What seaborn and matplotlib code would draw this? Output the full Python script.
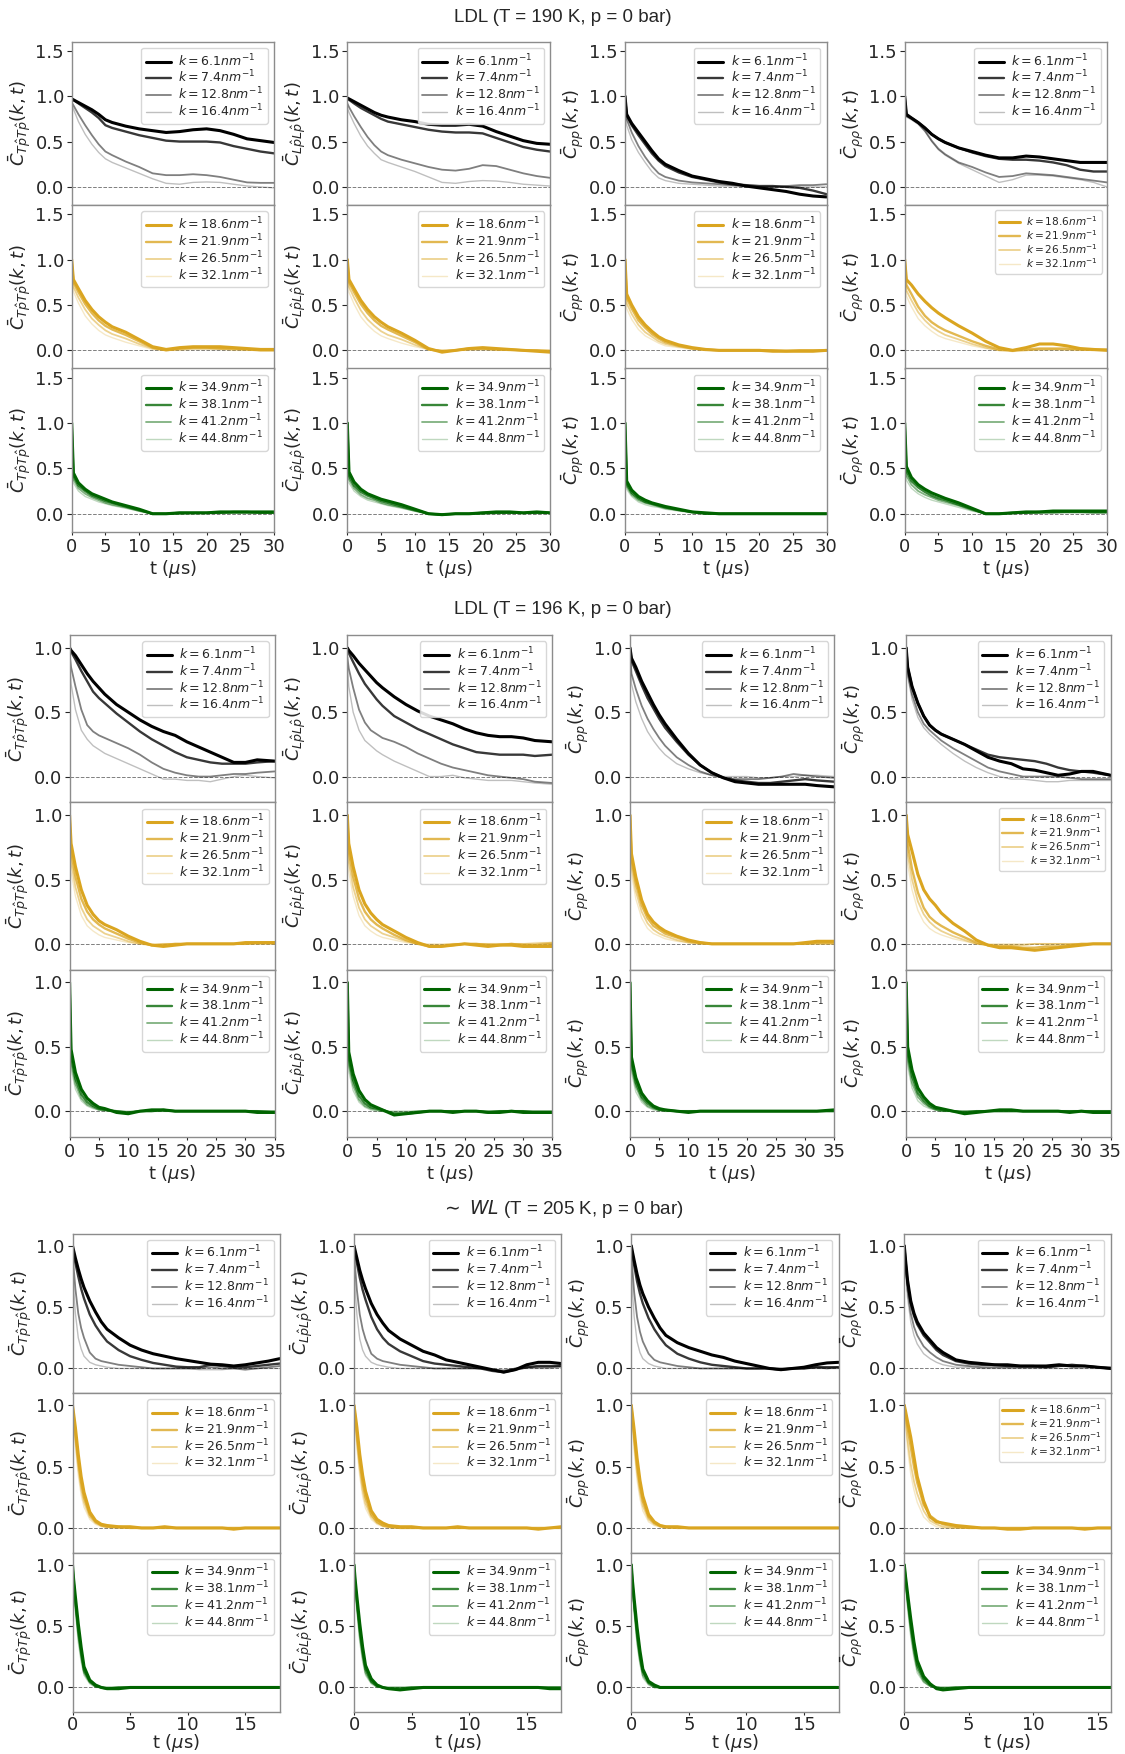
import numpy as np
import pandas as pd
import seaborn as sns
import matplotlib
matplotlib.use("Agg")
import matplotlib.pyplot as plt

# ---------------- data ----------------
T_190 = [0, 0.25, 1, 2, 3, 4, 5, 6, 8, 10, 12, 14, 16, 18, 20, 22, 24, 26, 28, 30]
T_196 = [0, 0.25, 1, 2, 3, 4, 5, 6, 8, 10, 12, 14, 16, 18, 20, 22, 24, 26, 28, 30, 32, 35]
T_205 = [0, 0.1, 0.25, 0.5, 0.75, 1, 1.5, 2, 2.5, 3, 4, 5, 6, 7, 8, 9, 10, 11, 12, 13, 14, 15, 16, 17, 18]

K_LOW = ["6.1", "7.4", "12.8", "16.4"]
K_MID = ["18.6", "21.9", "26.5", "32.1"]
K_HIGH = ["34.9", "38.1", "41.2", "44.8"]

TITLES = ["LDL (T = 190 K, p = 0 bar)", "LDL (T = 196 K, p = 0 bar)",
          r"$\sim$ $WL$ (T = 205 K, p = 0 bar)"]
YLABELS = [r"$\bar{C}_{T\hat{p}T\hat{p}}(k, t)$", r"$\bar{C}_{L\hat{p}L\hat{p}}(k, t)$",
           r"$\bar{C}_{pp}(k, t)$", r"$\bar{C}_{\rho\rho}(k, t)$"]

# ---- T = 190 K ----
C190_TT_low = [
    [0.97, 0.96, 0.93, 0.89, 0.85, 0.80, 0.74, 0.71, 0.67, 0.64, 0.62, 0.60, 0.61, 0.63, 0.64, 0.62, 0.58, 0.53, 0.51, 0.49],
    [0.97, 0.96, 0.92, 0.87, 0.82, 0.76, 0.68, 0.65, 0.61, 0.57, 0.54, 0.51, 0.50, 0.50, 0.50, 0.49, 0.45, 0.42, 0.39, 0.37],
    [0.93, 0.90, 0.80, 0.68, 0.57, 0.47, 0.39, 0.35, 0.28, 0.22, 0.15, 0.13, 0.13, 0.14, 0.13, 0.11, 0.08, 0.05, 0.045, 0.045],
    [0.90, 0.86, 0.72, 0.58, 0.47, 0.38, 0.31, 0.27, 0.21, 0.15, 0.09, 0.04, 0.03, 0.05, 0.055, 0.05, 0.03, 0.01, 0.0, -0.01]]
C190_LL_low = [
    [0.98, 0.97, 0.94, 0.90, 0.86, 0.82, 0.79, 0.77, 0.74, 0.72, 0.69, 0.68, 0.68, 0.69, 0.67, 0.61, 0.56, 0.51, 0.48, 0.47],
    [0.97, 0.96, 0.92, 0.87, 0.83, 0.79, 0.75, 0.72, 0.69, 0.66, 0.63, 0.61, 0.60, 0.60, 0.59, 0.54, 0.49, 0.44, 0.41, 0.39],
    [0.92, 0.88, 0.78, 0.66, 0.55, 0.46, 0.39, 0.35, 0.30, 0.26, 0.22, 0.19, 0.18, 0.20, 0.24, 0.23, 0.19, 0.15, 0.12, 0.10],
    [0.87, 0.82, 0.70, 0.56, 0.45, 0.37, 0.30, 0.27, 0.22, 0.17, 0.11, 0.05, 0.04, 0.06, 0.07, 0.065, 0.05, 0.03, 0.02, 0.01]]
C190_pp_low = [
    [1.0, 0.80, 0.70, 0.60, 0.50, 0.40, 0.31, 0.25, 0.18, 0.12, 0.09, 0.06, 0.04, 0.01, -0.01, -0.03, -0.05, -0.08, -0.10, -0.11],
    [1.0, 0.79, 0.68, 0.57, 0.47, 0.37, 0.29, 0.23, 0.16, 0.11, 0.08, 0.05, 0.03, 0.02, 0.01, 0.01, 0.0, -0.01, -0.04, -0.08],
    [1.0, 0.75, 0.60, 0.45, 0.33, 0.23, 0.15, 0.11, 0.07, 0.05, 0.04, 0.03, 0.02, 0.01, 0.0, 0.0, 0.01, 0.02, 0.02, 0.03],
    [1.0, 0.68, 0.52, 0.38, 0.27, 0.17, 0.10, 0.07, 0.04, 0.03, 0.02, 0.01, 0.01, 0.0, 0.0, 0.0, 0.0, 0.0, 0.0, 0.0]]
C190_rr_low = [
    [1.0, 0.80, 0.76, 0.71, 0.65, 0.58, 0.53, 0.49, 0.43, 0.39, 0.35, 0.32, 0.32, 0.34, 0.33, 0.31, 0.29, 0.27, 0.27, 0.27],
    [1.0, 0.79, 0.76, 0.71, 0.65, 0.58, 0.53, 0.49, 0.43, 0.38, 0.34, 0.31, 0.30, 0.30, 0.29, 0.27, 0.24, 0.19, 0.17, 0.17],
    [1.0, 0.78, 0.75, 0.70, 0.62, 0.51, 0.42, 0.36, 0.27, 0.22, 0.16, 0.11, 0.12, 0.15, 0.14, 0.13, 0.11, 0.09, 0.07, 0.05],
    [1.0, 0.77, 0.74, 0.69, 0.61, 0.50, 0.41, 0.35, 0.26, 0.19, 0.12, 0.05, 0.08, 0.13, 0.13, 0.12, 0.10, 0.08, 0.05, 0.0]]
C190_TT_mid = [
    [1.0, 0.78, 0.68, 0.55, 0.45, 0.37, 0.31, 0.26, 0.20, 0.12, 0.04, 0.01, 0.03, 0.04, 0.04, 0.04, 0.03, 0.02, 0.01, 0.01],
    [1.0, 0.75, 0.64, 0.51, 0.41, 0.33, 0.27, 0.23, 0.17, 0.10, 0.03, 0.0, 0.02, 0.03, 0.03, 0.02, 0.02, 0.01, 0.0, 0.0],
    [1.0, 0.70, 0.58, 0.45, 0.35, 0.28, 0.22, 0.18, 0.13, 0.07, 0.02, 0.0, 0.01, 0.02, 0.02, 0.02, 0.01, 0.01, 0.0, 0.0],
    [1.0, 0.65, 0.52, 0.38, 0.29, 0.22, 0.17, 0.14, 0.09, 0.05, 0.01, 0.0, 0.0, 0.01, 0.01, 0.01, 0.0, 0.0, 0.0, 0.0]]
C190_LL_mid = [
    [1.0, 0.78, 0.68, 0.55, 0.45, 0.37, 0.31, 0.26, 0.19, 0.11, 0.02, -0.02, 0.0, 0.02, 0.03, 0.02, 0.01, 0.0, -0.01, -0.02],
    [1.0, 0.75, 0.64, 0.51, 0.41, 0.33, 0.27, 0.23, 0.16, 0.09, 0.01, -0.01, 0.0, 0.02, 0.02, 0.01, 0.01, 0.0, 0.0, -0.01],
    [1.0, 0.70, 0.58, 0.44, 0.34, 0.27, 0.21, 0.17, 0.12, 0.06, 0.01, 0.0, 0.0, 0.01, 0.01, 0.01, 0.0, 0.0, 0.0, 0.0],
    [1.0, 0.64, 0.51, 0.37, 0.28, 0.21, 0.16, 0.13, 0.08, 0.04, 0.01, 0.0, 0.0, 0.0, 0.01, 0.0, 0.0, 0.0, 0.0, 0.0]]
C190_pp_mid = [
    [1.0, 0.62, 0.50, 0.37, 0.28, 0.21, 0.15, 0.11, 0.06, 0.03, 0.01, 0.0, 0.0, 0.0, 0.0, -0.01, -0.01, -0.01, -0.01, 0.0],
    [1.0, 0.58, 0.46, 0.33, 0.25, 0.18, 0.13, 0.09, 0.05, 0.02, 0.01, 0.0, 0.0, 0.0, 0.0, 0.0, -0.01, 0.0, 0.0, 0.0],
    [1.0, 0.52, 0.40, 0.28, 0.20, 0.15, 0.10, 0.07, 0.04, 0.02, 0.0, 0.0, 0.0, 0.0, 0.0, 0.0, 0.0, 0.0, 0.0, 0.0],
    [1.0, 0.46, 0.34, 0.23, 0.16, 0.12, 0.08, 0.05, 0.03, 0.01, 0.0, 0.0, 0.0, 0.0, 0.0, 0.0, 0.0, 0.0, 0.0, 0.0]]
C190_rr_mid = [
    [1.0, 0.78, 0.72, 0.62, 0.54, 0.47, 0.41, 0.36, 0.27, 0.19, 0.10, 0.03, 0.0, 0.03, 0.07, 0.07, 0.05, 0.02, 0.01, 0.0],
    [1.0, 0.72, 0.62, 0.48, 0.38, 0.31, 0.26, 0.22, 0.16, 0.10, 0.05, 0.01, 0.0, 0.01, 0.02, 0.02, 0.02, 0.01, 0.01, 0.01],
    [1.0, 0.66, 0.55, 0.42, 0.33, 0.26, 0.21, 0.17, 0.12, 0.07, 0.03, 0.0, -0.01, 0.0, 0.01, 0.01, 0.01, 0.01, 0.0, 0.0],
    [1.0, 0.60, 0.48, 0.35, 0.27, 0.21, 0.16, 0.13, 0.09, 0.05, 0.02, 0.0, 0.0, 0.0, 0.0, 0.01, 0.0, 0.0, 0.0, 0.0]]
C190_TT_high = [
    [1.0, 0.45, 0.34, 0.27, 0.22, 0.19, 0.16, 0.13, 0.09, 0.05, 0.0, 0.0, 0.01, 0.01, 0.01, 0.02, 0.02, 0.02, 0.02, 0.02],
    [1.0, 0.42, 0.31, 0.25, 0.20, 0.17, 0.14, 0.12, 0.08, 0.04, 0.0, 0.0, 0.01, 0.01, 0.01, 0.01, 0.02, 0.02, 0.01, 0.01],
    [1.0, 0.38, 0.28, 0.22, 0.18, 0.15, 0.12, 0.10, 0.07, 0.03, 0.0, 0.0, 0.0, 0.01, 0.01, 0.01, 0.01, 0.01, 0.01, 0.01],
    [1.0, 0.34, 0.25, 0.19, 0.16, 0.13, 0.11, 0.09, 0.06, 0.03, 0.0, 0.0, 0.0, 0.0, 0.01, 0.01, 0.01, 0.01, 0.01, 0.01]]
C190_LL_high = [
    [1.0, 0.46, 0.35, 0.27, 0.22, 0.19, 0.16, 0.14, 0.10, 0.05, 0.0, -0.01, 0.0, 0.0, 0.01, 0.02, 0.02, 0.01, 0.02, 0.01],
    [1.0, 0.42, 0.31, 0.24, 0.20, 0.17, 0.14, 0.12, 0.08, 0.04, 0.0, -0.01, 0.0, 0.0, 0.01, 0.01, 0.01, 0.01, 0.01, 0.01],
    [1.0, 0.38, 0.28, 0.21, 0.17, 0.15, 0.12, 0.10, 0.07, 0.03, 0.0, -0.01, 0.0, 0.0, 0.0, 0.01, 0.01, 0.01, 0.01, 0.01],
    [1.0, 0.34, 0.25, 0.19, 0.15, 0.13, 0.11, 0.09, 0.06, 0.03, 0.0, -0.01, 0.0, 0.0, 0.0, 0.0, 0.01, 0.01, 0.0, 0.01]]
C190_pp_high = [
    [1.0, 0.36, 0.26, 0.19, 0.15, 0.12, 0.10, 0.08, 0.05, 0.02, 0.01, 0.0, 0.0, 0.0, 0.0, 0.0, 0.0, 0.0, 0.0, 0.0],
    [1.0, 0.33, 0.23, 0.17, 0.13, 0.11, 0.09, 0.07, 0.04, 0.02, 0.0, 0.0, 0.0, 0.0, 0.0, 0.0, 0.0, 0.0, 0.0, 0.0],
    [1.0, 0.30, 0.21, 0.15, 0.12, 0.10, 0.08, 0.06, 0.04, 0.02, 0.0, 0.0, 0.0, 0.0, 0.0, 0.0, 0.0, 0.0, 0.0, 0.0],
    [1.0, 0.27, 0.19, 0.13, 0.10, 0.08, 0.07, 0.05, 0.03, 0.01, 0.0, 0.0, 0.0, 0.0, 0.0, 0.0, 0.0, 0.0, 0.0, 0.0]]
C190_rr_high = [
    [1.0, 0.52, 0.40, 0.32, 0.27, 0.23, 0.20, 0.17, 0.12, 0.06, 0.0, 0.0, 0.01, 0.02, 0.02, 0.03, 0.03, 0.03, 0.03, 0.03],
    [1.0, 0.47, 0.36, 0.29, 0.24, 0.20, 0.17, 0.15, 0.10, 0.05, 0.0, 0.0, 0.01, 0.01, 0.02, 0.02, 0.02, 0.02, 0.02, 0.02],
    [1.0, 0.42, 0.32, 0.25, 0.21, 0.18, 0.15, 0.13, 0.09, 0.04, 0.0, 0.0, 0.01, 0.01, 0.01, 0.01, 0.02, 0.02, 0.01, 0.01],
    [1.0, 0.37, 0.28, 0.22, 0.18, 0.15, 0.13, 0.11, 0.07, 0.03, 0.0, 0.0, 0.0, 0.01, 0.01, 0.01, 0.01, 0.01, 0.01, 0.01]]

# ---- T = 196 K ----
C196_TT_low = [
    [1.0, 0.98, 0.94, 0.87, 0.80, 0.74, 0.69, 0.64, 0.56, 0.50, 0.44, 0.39, 0.35, 0.32, 0.27, 0.23, 0.19, 0.15, 0.11, 0.11, 0.13, 0.12],
    [1.0, 0.97, 0.91, 0.82, 0.74, 0.66, 0.61, 0.57, 0.49, 0.42, 0.35, 0.29, 0.24, 0.19, 0.15, 0.13, 0.11, 0.10, 0.10, 0.10, 0.11, 0.12],
    [0.95, 0.85, 0.70, 0.52, 0.40, 0.35, 0.32, 0.30, 0.26, 0.22, 0.17, 0.11, 0.06, 0.03, 0.01, 0.0, 0.0, 0.01, 0.02, 0.02, 0.03, 0.04],
    [0.90, 0.72, 0.52, 0.36, 0.29, 0.24, 0.21, 0.18, 0.14, 0.10, 0.06, 0.02, -0.02, -0.02, -0.03, -0.03, -0.04, -0.02, 0.0, 0.01, 0.0, -0.01]]
C196_LL_low = [
    [1.0, 0.98, 0.94, 0.88, 0.83, 0.78, 0.73, 0.69, 0.62, 0.56, 0.51, 0.47, 0.44, 0.41, 0.37, 0.34, 0.32, 0.31, 0.31, 0.30, 0.28, 0.27],
    [1.0, 0.96, 0.89, 0.80, 0.72, 0.66, 0.60, 0.55, 0.47, 0.42, 0.37, 0.33, 0.29, 0.25, 0.22, 0.19, 0.18, 0.17, 0.17, 0.17, 0.16, 0.17],
    [0.93, 0.84, 0.69, 0.52, 0.42, 0.36, 0.33, 0.30, 0.27, 0.23, 0.18, 0.14, 0.10, 0.07, 0.05, 0.03, 0.01, 0.0, -0.01, -0.02, -0.04, -0.05],
    [0.88, 0.70, 0.50, 0.36, 0.28, 0.24, 0.20, 0.17, 0.12, 0.08, 0.04, 0.0, 0.0, 0.01, -0.01, -0.02, -0.03, -0.03, -0.03, -0.04, -0.05, -0.06]]
C196_pp_low = [
    [1.0, 0.92, 0.85, 0.74, 0.65, 0.56, 0.48, 0.41, 0.29, 0.18, 0.09, 0.03, -0.01, -0.04, -0.05, -0.06, -0.06, -0.06, -0.06, -0.06, -0.07, -0.08],
    [1.0, 0.90, 0.82, 0.71, 0.61, 0.53, 0.45, 0.38, 0.27, 0.17, 0.09, 0.03, -0.01, -0.03, -0.04, -0.05, -0.05, -0.04, -0.03, -0.02, -0.03, -0.04],
    [1.0, 0.80, 0.68, 0.55, 0.45, 0.37, 0.30, 0.24, 0.15, 0.09, 0.04, 0.01, -0.01, -0.02, -0.02, -0.02, -0.01, 0.0, 0.02, 0.01, 0.0, -0.01],
    [1.0, 0.72, 0.58, 0.45, 0.35, 0.28, 0.22, 0.17, 0.10, 0.06, 0.03, 0.01, 0.0, 0.0, 0.0, -0.01, -0.01, 0.0, 0.0, 0.01, 0.01, 0.0]]
C196_rr_low = [
    [1.0, 0.85, 0.70, 0.57, 0.47, 0.40, 0.36, 0.33, 0.29, 0.25, 0.20, 0.15, 0.12, 0.10, 0.06, 0.05, 0.03, 0.01, 0.02, 0.04, 0.04, 0.01],
    [1.0, 0.85, 0.70, 0.57, 0.47, 0.40, 0.36, 0.33, 0.29, 0.25, 0.21, 0.17, 0.15, 0.14, 0.13, 0.12, 0.10, 0.07, 0.05, 0.04, 0.03, 0.01],
    [1.0, 0.80, 0.64, 0.50, 0.41, 0.36, 0.32, 0.28, 0.22, 0.17, 0.12, 0.07, 0.04, 0.02, 0.0, 0.0, 0.0, 0.0, -0.01, -0.02, -0.02, -0.02],
    [1.0, 0.78, 0.60, 0.46, 0.38, 0.33, 0.29, 0.25, 0.18, 0.12, 0.07, 0.03, 0.0, -0.02, -0.02, -0.03, -0.04, -0.04, -0.03, -0.03, -0.03, -0.03]]
C196_TT_mid = [
    [1.0, 0.78, 0.60, 0.42, 0.30, 0.23, 0.18, 0.15, 0.11, 0.06, 0.02, -0.01, -0.02, -0.01, 0.0, 0.0, 0.0, 0.0, 0.0, 0.01, 0.01, 0.01],
    [1.0, 0.72, 0.52, 0.35, 0.25, 0.19, 0.15, 0.12, 0.08, 0.04, 0.01, -0.01, -0.01, 0.0, 0.0, 0.0, 0.0, 0.0, 0.0, 0.0, 0.01, 0.01],
    [1.0, 0.64, 0.44, 0.28, 0.19, 0.14, 0.11, 0.08, 0.05, 0.02, 0.0, -0.01, 0.0, 0.0, 0.0, 0.0, 0.0, 0.0, 0.0, 0.0, 0.0, 0.0],
    [1.0, 0.56, 0.37, 0.22, 0.14, 0.10, 0.07, 0.05, 0.03, 0.01, 0.0, 0.0, 0.0, 0.0, 0.0, 0.0, 0.0, 0.0, 0.0, 0.0, 0.0, 0.0]]
C196_LL_mid = [
    [1.0, 0.78, 0.60, 0.42, 0.31, 0.24, 0.19, 0.15, 0.10, 0.05, 0.01, -0.02, -0.02, -0.01, 0.0, -0.01, -0.02, -0.01, -0.01, -0.02, -0.02, -0.02],
    [1.0, 0.72, 0.52, 0.35, 0.25, 0.19, 0.15, 0.12, 0.07, 0.03, 0.0, -0.02, -0.02, -0.01, 0.0, 0.0, -0.01, -0.01, 0.0, -0.01, -0.01, 0.0],
    [1.0, 0.64, 0.44, 0.28, 0.19, 0.14, 0.11, 0.08, 0.05, 0.02, 0.0, -0.01, -0.01, 0.0, 0.0, 0.0, 0.0, 0.0, 0.0, 0.0, 0.0, 0.01],
    [1.0, 0.56, 0.37, 0.22, 0.14, 0.10, 0.07, 0.05, 0.03, 0.01, 0.0, 0.0, 0.0, 0.0, 0.0, 0.0, 0.0, 0.0, 0.0, 0.0, 0.01, 0.01]]
C196_pp_mid = [
    [1.0, 0.70, 0.52, 0.34, 0.23, 0.17, 0.13, 0.10, 0.06, 0.03, 0.01, 0.0, 0.0, 0.0, 0.0, 0.0, 0.0, 0.0, 0.0, 0.01, 0.02, 0.02],
    [1.0, 0.66, 0.47, 0.30, 0.20, 0.14, 0.11, 0.08, 0.05, 0.02, 0.01, 0.0, 0.0, 0.0, 0.0, 0.0, 0.0, 0.0, 0.0, 0.0, 0.01, 0.01],
    [1.0, 0.60, 0.41, 0.25, 0.16, 0.11, 0.08, 0.06, 0.03, 0.01, 0.0, 0.0, 0.0, 0.0, 0.0, 0.0, 0.0, 0.0, 0.0, 0.0, 0.0, 0.0],
    [1.0, 0.54, 0.35, 0.20, 0.12, 0.08, 0.06, 0.04, 0.02, 0.01, 0.0, 0.0, 0.0, 0.0, 0.0, 0.0, 0.0, 0.0, 0.0, 0.0, 0.0, 0.0]]
C196_rr_mid = [
    [1.0, 0.85, 0.72, 0.54, 0.42, 0.35, 0.30, 0.24, 0.16, 0.10, 0.03, -0.01, -0.03, -0.03, -0.04, -0.05, -0.04, -0.03, -0.02, -0.01, 0.0, 0.0],
    [1.0, 0.78, 0.58, 0.40, 0.28, 0.21, 0.17, 0.14, 0.09, 0.05, 0.01, -0.01, -0.02, -0.02, -0.03, -0.03, -0.02, -0.02, -0.01, 0.0, 0.0, 0.0],
    [1.0, 0.70, 0.50, 0.33, 0.23, 0.17, 0.13, 0.10, 0.06, 0.03, 0.0, -0.01, -0.01, -0.01, -0.01, 0.0, 0.0, 0.0, 0.0, 0.0, 0.0, 0.0],
    [1.0, 0.62, 0.42, 0.26, 0.17, 0.12, 0.09, 0.07, 0.04, 0.02, 0.0, 0.0, 0.0, 0.0, 0.0, 0.0, 0.0, 0.0, 0.0, 0.0, 0.0, 0.0]]
C196_TT_high = [
    [1.0, 0.48, 0.30, 0.17, 0.10, 0.06, 0.03, 0.02, -0.01, -0.02, 0.0, 0.01, 0.01, 0.0, 0.0, 0.0, 0.0, 0.0, 0.0, 0.0, -0.01, -0.01],
    [1.0, 0.43, 0.25, 0.13, 0.07, 0.04, 0.02, 0.01, 0.0, -0.01, 0.0, 0.0, 0.01, 0.0, 0.0, 0.0, 0.0, 0.0, 0.0, 0.0, 0.0, -0.01],
    [1.0, 0.38, 0.21, 0.10, 0.05, 0.03, 0.01, 0.01, 0.0, -0.01, 0.0, 0.0, 0.0, 0.0, 0.0, 0.0, 0.0, 0.0, 0.0, 0.0, 0.0, 0.0],
    [1.0, 0.33, 0.17, 0.08, 0.04, 0.02, 0.01, 0.0, 0.0, 0.0, 0.0, 0.0, 0.0, 0.0, 0.0, 0.0, 0.0, 0.0, 0.0, 0.0, 0.0, 0.0]]
C196_LL_high = [
    [1.0, 0.46, 0.29, 0.16, 0.09, 0.05, 0.03, 0.01, -0.03, -0.02, -0.01, 0.0, 0.0, -0.01, 0.0, 0.0, -0.01, -0.01, 0.0, -0.01, -0.01, -0.01],
    [1.0, 0.41, 0.24, 0.12, 0.06, 0.03, 0.02, 0.01, -0.02, -0.02, -0.01, 0.0, 0.0, 0.0, 0.0, 0.0, -0.01, 0.0, 0.0, 0.0, -0.01, -0.01],
    [1.0, 0.36, 0.20, 0.09, 0.04, 0.02, 0.01, 0.0, -0.01, -0.01, 0.0, 0.0, 0.0, 0.0, 0.0, 0.0, 0.0, 0.0, 0.0, 0.0, 0.0, 0.0],
    [1.0, 0.31, 0.16, 0.07, 0.03, 0.01, 0.0, 0.0, 0.0, 0.0, 0.0, 0.0, 0.0, 0.0, 0.0, 0.0, 0.0, 0.0, 0.0, 0.0, 0.0, 0.0]]
C196_pp_high = [
    [1.0, 0.42, 0.26, 0.14, 0.08, 0.04, 0.02, 0.01, 0.0, -0.01, 0.0, 0.0, 0.0, 0.0, 0.0, 0.0, 0.0, 0.0, 0.0, 0.0, 0.0, 0.01],
    [1.0, 0.38, 0.22, 0.11, 0.06, 0.03, 0.01, 0.01, 0.0, 0.0, 0.0, 0.0, 0.0, 0.0, 0.0, 0.0, 0.0, 0.0, 0.0, 0.0, 0.0, 0.0],
    [1.0, 0.34, 0.19, 0.09, 0.04, 0.02, 0.01, 0.0, 0.0, 0.0, 0.0, 0.0, 0.0, 0.0, 0.0, 0.0, 0.0, 0.0, 0.0, 0.0, 0.0, 0.0],
    [1.0, 0.30, 0.15, 0.07, 0.03, 0.01, 0.0, 0.0, 0.0, 0.0, 0.0, 0.0, 0.0, 0.0, 0.0, 0.0, 0.0, 0.0, 0.0, 0.0, 0.0, 0.0]]
C196_rr_high = [
    [1.0, 0.50, 0.32, 0.18, 0.11, 0.06, 0.03, 0.02, 0.0, -0.02, -0.01, 0.0, 0.01, 0.01, 0.0, 0.0, 0.0, 0.0, -0.01, 0.0, -0.01, -0.01],
    [1.0, 0.45, 0.27, 0.14, 0.08, 0.04, 0.02, 0.01, 0.0, -0.01, 0.0, 0.0, 0.0, 0.0, 0.0, 0.0, 0.0, 0.0, 0.0, 0.0, 0.0, 0.0],
    [1.0, 0.40, 0.22, 0.11, 0.06, 0.03, 0.01, 0.0, 0.0, 0.0, 0.0, 0.0, 0.0, 0.0, 0.0, 0.0, 0.0, 0.0, 0.0, 0.0, 0.0, 0.0],
    [1.0, 0.35, 0.18, 0.08, 0.04, 0.02, 0.01, 0.0, 0.0, 0.0, 0.0, 0.0, 0.0, 0.0, 0.0, 0.0, 0.0, 0.0, 0.0, 0.0, 0.0, 0.0]]

# ---- T = 205 K ----
C205_TT_low = [
    [1.0, 0.96, 0.90, 0.81, 0.73, 0.66, 0.55, 0.46, 0.38, 0.32, 0.25, 0.19, 0.15, 0.12, 0.10, 0.08, 0.065, 0.05, 0.035, 0.03, 0.02, 0.03, 0.045, 0.06, 0.08],
    [1.0, 0.94, 0.86, 0.75, 0.65, 0.57, 0.44, 0.35, 0.28, 0.22, 0.15, 0.10, 0.07, 0.045, 0.03, 0.015, 0.01, 0.01, 0.03, 0.02, 0.01, 0.01, 0.02, 0.03, 0.04],
    [0.95, 0.82, 0.65, 0.45, 0.33, 0.25, 0.13, 0.08, 0.06, 0.05, 0.03, 0.02, 0.01, 0.0, 0.0, 0.0, 0.0, 0.0, 0.01, 0.0, 0.0, -0.01, 0.0, 0.01, 0.02],
    [0.85, 0.65, 0.45, 0.25, 0.16, 0.10, 0.05, 0.03, 0.02, 0.01, 0.0, 0.0, 0.0, 0.0, 0.0, 0.0, 0.0, -0.01, -0.01, -0.01, 0.0, 0.0, 0.0, 0.0, 0.0]]
C205_LL_low = [
    [1.0, 0.96, 0.90, 0.80, 0.72, 0.65, 0.53, 0.44, 0.37, 0.31, 0.24, 0.19, 0.14, 0.11, 0.07, 0.05, 0.03, 0.01, -0.01, -0.03, -0.01, 0.03, 0.05, 0.05, 0.04],
    [1.0, 0.94, 0.86, 0.74, 0.64, 0.56, 0.42, 0.32, 0.25, 0.20, 0.14, 0.10, 0.06, 0.04, 0.03, 0.02, 0.01, 0.0, -0.02, -0.03, -0.01, 0.01, 0.02, 0.02, 0.02],
    [0.95, 0.82, 0.64, 0.44, 0.32, 0.24, 0.12, 0.08, 0.06, 0.05, 0.03, 0.02, 0.01, 0.0, 0.0, 0.0, 0.0, 0.0, -0.01, -0.02, 0.0, 0.01, 0.01, 0.01, 0.02],
    [0.85, 0.64, 0.44, 0.24, 0.15, 0.10, 0.05, 0.03, 0.02, 0.01, 0.0, 0.0, 0.0, 0.0, 0.0, 0.0, 0.0, 0.0, -0.01, -0.01, 0.0, 0.0, 0.0, 0.0, 0.01]]
C205_pp_low = [
    [1.0, 0.95, 0.88, 0.77, 0.68, 0.61, 0.50, 0.41, 0.33, 0.27, 0.21, 0.17, 0.14, 0.11, 0.09, 0.06, 0.04, 0.02, 0.0, -0.01, 0.0, 0.01, 0.03, 0.045, 0.05],
    [1.0, 0.93, 0.84, 0.71, 0.61, 0.53, 0.41, 0.32, 0.25, 0.19, 0.12, 0.08, 0.05, 0.03, 0.02, 0.01, 0.0, 0.0, 0.0, -0.01, 0.0, 0.0, 0.01, 0.01, 0.01],
    [0.95, 0.80, 0.62, 0.42, 0.30, 0.22, 0.12, 0.07, 0.05, 0.04, 0.02, 0.01, 0.0, 0.0, 0.0, 0.0, 0.0, 0.0, 0.0, 0.0, 0.0, 0.0, 0.01, 0.0, 0.01],
    [0.85, 0.62, 0.42, 0.22, 0.13, 0.08, 0.04, 0.02, 0.01, 0.0, 0.0, 0.0, 0.0, 0.0, 0.0, 0.0, 0.0, 0.0, 0.0, 0.0, 0.0, 0.0, 0.0, 0.0, 0.0]]
C205_rr_low = [
    [1.0, 0.88, 0.72, 0.55, 0.45, 0.38, 0.29, 0.23, 0.17, 0.13, 0.07, 0.05, 0.04, 0.03, 0.03, 0.02, 0.02, 0.02, 0.03, 0.02, 0.02, 0.01, 0.0, -0.01, -0.01],
    [1.0, 0.87, 0.70, 0.53, 0.43, 0.36, 0.27, 0.21, 0.15, 0.11, 0.06, 0.04, 0.03, 0.03, 0.02, 0.02, 0.02, 0.01, 0.02, 0.03, 0.02, 0.01, 0.0, 0.0, 0.0],
    [1.0, 0.84, 0.64, 0.45, 0.34, 0.27, 0.18, 0.13, 0.09, 0.06, 0.03, 0.02, 0.01, 0.01, 0.01, 0.01, 0.01, 0.01, 0.02, 0.02, 0.02, 0.01, 0.01, 0.0, 0.0],
    [1.0, 0.80, 0.58, 0.38, 0.27, 0.20, 0.12, 0.08, 0.05, 0.03, 0.01, 0.01, 0.0, 0.0, 0.0, 0.0, 0.0, 0.0, 0.0, 0.0, 0.0, 0.0, 0.0, 0.0, 0.0]]
C205_TT_mid = [
    [1.0, 0.93, 0.82, 0.60, 0.42, 0.29, 0.13, 0.06, 0.03, 0.02, 0.01, 0.01, 0.0, 0.0, 0.01, 0.0, 0.0, 0.0, 0.0, 0.0, -0.01, 0.0, 0.0, 0.0, 0.0],
    [1.0, 0.91, 0.77, 0.55, 0.37, 0.25, 0.11, 0.05, 0.02, 0.01, 0.01, 0.0, 0.0, 0.0, 0.0, 0.0, 0.0, 0.0, 0.0, 0.0, 0.0, 0.0, 0.0, 0.0, 0.0],
    [1.0, 0.88, 0.72, 0.49, 0.32, 0.21, 0.09, 0.04, 0.02, 0.01, 0.0, 0.0, 0.0, 0.0, 0.0, 0.0, 0.0, 0.0, 0.0, 0.0, 0.0, 0.0, 0.0, 0.0, 0.0],
    [1.0, 0.85, 0.66, 0.43, 0.27, 0.17, 0.07, 0.03, 0.01, 0.0, 0.0, 0.0, 0.0, 0.0, 0.0, 0.0, 0.0, 0.0, 0.0, 0.0, 0.0, 0.0, 0.0, 0.0, 0.0]]
C205_LL_mid = [
    [1.0, 0.93, 0.82, 0.60, 0.43, 0.30, 0.14, 0.07, 0.04, 0.02, 0.01, 0.01, 0.0, 0.0, 0.0, 0.01, 0.0, 0.0, 0.0, 0.0, 0.0, 0.0, -0.01, 0.0, 0.01],
    [1.0, 0.91, 0.77, 0.54, 0.37, 0.25, 0.11, 0.05, 0.02, 0.01, 0.0, 0.0, 0.0, 0.0, 0.0, 0.0, 0.0, 0.0, 0.0, 0.0, 0.0, 0.0, 0.0, 0.0, 0.0],
    [1.0, 0.88, 0.71, 0.48, 0.31, 0.20, 0.09, 0.04, 0.02, 0.01, 0.0, 0.0, 0.0, 0.0, 0.0, 0.0, 0.0, 0.0, 0.0, 0.0, 0.0, 0.0, 0.0, 0.0, 0.0],
    [1.0, 0.85, 0.65, 0.42, 0.26, 0.16, 0.07, 0.03, 0.01, 0.0, 0.0, 0.0, 0.0, 0.0, 0.0, 0.0, 0.0, 0.0, 0.0, 0.0, 0.0, 0.0, 0.0, 0.0, 0.0]]
C205_pp_mid = [
    [1.0, 0.92, 0.80, 0.57, 0.39, 0.26, 0.11, 0.05, 0.02, 0.01, 0.01, 0.0, 0.0, 0.0, 0.0, 0.0, 0.0, 0.0, 0.0, 0.0, 0.0, 0.0, 0.0, 0.0, 0.0],
    [1.0, 0.90, 0.75, 0.51, 0.34, 0.22, 0.09, 0.04, 0.02, 0.01, 0.0, 0.0, 0.0, 0.0, 0.0, 0.0, 0.0, 0.0, 0.0, 0.0, 0.0, 0.0, 0.0, 0.0, 0.0],
    [1.0, 0.87, 0.69, 0.45, 0.29, 0.18, 0.07, 0.03, 0.01, 0.0, 0.0, 0.0, 0.0, 0.0, 0.0, 0.0, 0.0, 0.0, 0.0, 0.0, 0.0, 0.0, 0.0, 0.0, 0.0],
    [1.0, 0.84, 0.63, 0.39, 0.24, 0.14, 0.05, 0.02, 0.01, 0.0, 0.0, 0.0, 0.0, 0.0, 0.0, 0.0, 0.0, 0.0, 0.0, 0.0, 0.0, 0.0, 0.0, 0.0, 0.0]]
C205_rr_mid = [
    [1.0, 0.95, 0.87, 0.74, 0.58, 0.42, 0.22, 0.09, 0.05, 0.04, 0.02, 0.01, 0.0, 0.0, -0.01, -0.01, 0.0, 0.0, 0.0, 0.0, -0.01, 0.0, 0.0, 0.0, 0.0],
    [1.0, 0.93, 0.82, 0.66, 0.50, 0.37, 0.19, 0.10, 0.06, 0.03, 0.01, 0.0, 0.0, 0.0, 0.0, 0.0, 0.0, 0.0, 0.0, 0.0, 0.0, 0.0, 0.0, 0.0, 0.0],
    [1.0, 0.88, 0.72, 0.52, 0.38, 0.28, 0.14, 0.06, 0.03, 0.01, 0.0, 0.0, 0.0, 0.0, 0.0, 0.0, 0.0, 0.0, 0.0, 0.0, 0.0, 0.0, 0.0, 0.0, 0.0],
    [1.0, 0.84, 0.65, 0.44, 0.31, 0.21, 0.09, 0.04, 0.01, 0.0, 0.0, 0.0, 0.0, 0.0, 0.0, 0.0, 0.0, 0.0, 0.0, 0.0, 0.0, 0.0, 0.0, 0.0, 0.0]]
C205_TT_high = [
    [1.0, 0.88, 0.74, 0.52, 0.33, 0.17, 0.06, 0.02, 0.0, -0.01, -0.01, 0.0, 0.0, 0.0, 0.0, 0.0, 0.0, 0.0, 0.0, 0.0, 0.0, 0.0, 0.0, 0.0, 0.0],
    [1.0, 0.86, 0.70, 0.47, 0.29, 0.14, 0.05, 0.01, 0.0, -0.01, 0.0, 0.0, 0.0, 0.0, 0.0, 0.0, 0.0, 0.0, 0.0, 0.0, 0.0, 0.0, 0.0, 0.0, 0.0],
    [1.0, 0.84, 0.66, 0.42, 0.25, 0.12, 0.04, 0.01, 0.0, 0.0, 0.0, 0.0, 0.0, 0.0, 0.0, 0.0, 0.0, 0.0, 0.0, 0.0, 0.0, 0.0, 0.0, 0.0, 0.0],
    [1.0, 0.82, 0.62, 0.37, 0.21, 0.10, 0.03, 0.0, 0.0, 0.0, 0.0, 0.0, 0.0, 0.0, 0.0, 0.0, 0.0, 0.0, 0.0, 0.0, 0.0, 0.0, 0.0, 0.0, 0.0]]
C205_LL_high = [
    [1.0, 0.88, 0.74, 0.52, 0.33, 0.18, 0.07, 0.02, 0.0, -0.01, -0.02, -0.01, 0.0, 0.0, 0.0, 0.0, 0.0, 0.0, 0.0, 0.0, 0.0, 0.0, 0.0, -0.01, -0.01],
    [1.0, 0.86, 0.70, 0.47, 0.29, 0.15, 0.05, 0.01, 0.0, -0.01, -0.01, 0.0, 0.0, 0.0, 0.0, 0.0, 0.0, 0.0, 0.0, 0.0, 0.0, 0.0, 0.0, 0.0, 0.0],
    [1.0, 0.84, 0.66, 0.42, 0.25, 0.12, 0.04, 0.01, 0.0, 0.0, 0.0, 0.0, 0.0, 0.0, 0.0, 0.0, 0.0, 0.0, 0.0, 0.0, 0.0, 0.0, 0.0, 0.0, 0.0],
    [1.0, 0.82, 0.62, 0.37, 0.21, 0.10, 0.03, 0.0, 0.0, 0.0, 0.0, 0.0, 0.0, 0.0, 0.0, 0.0, 0.0, 0.0, 0.0, 0.0, 0.0, 0.0, 0.0, 0.0, 0.0]]
C205_pp_high = [
    [1.0, 0.87, 0.72, 0.49, 0.30, 0.15, 0.05, 0.02, 0.0, 0.0, 0.0, 0.0, 0.0, 0.0, 0.0, 0.0, 0.0, 0.0, 0.0, 0.0, 0.0, 0.0, 0.0, 0.0, 0.0],
    [1.0, 0.85, 0.68, 0.44, 0.26, 0.13, 0.04, 0.01, 0.0, 0.0, 0.0, 0.0, 0.0, 0.0, 0.0, 0.0, 0.0, 0.0, 0.0, 0.0, 0.0, 0.0, 0.0, 0.0, 0.0],
    [1.0, 0.83, 0.64, 0.39, 0.22, 0.10, 0.03, 0.0, 0.0, 0.0, 0.0, 0.0, 0.0, 0.0, 0.0, 0.0, 0.0, 0.0, 0.0, 0.0, 0.0, 0.0, 0.0, 0.0, 0.0],
    [1.0, 0.81, 0.60, 0.35, 0.19, 0.08, 0.02, 0.0, 0.0, 0.0, 0.0, 0.0, 0.0, 0.0, 0.0, 0.0, 0.0, 0.0, 0.0, 0.0, 0.0, 0.0, 0.0, 0.0, 0.0]]
C205_rr_high = [
    [1.0, 0.90, 0.77, 0.56, 0.37, 0.22, 0.09, 0.03, -0.01, -0.02, -0.01, 0.0, 0.0, 0.0, 0.0, 0.0, 0.0, 0.0, 0.0, 0.0, 0.0, 0.0, 0.0, 0.0, 0.0],
    [1.0, 0.88, 0.73, 0.51, 0.32, 0.18, 0.07, 0.02, 0.0, -0.01, 0.0, 0.0, 0.0, 0.0, 0.0, 0.0, 0.0, 0.0, 0.0, 0.0, 0.0, 0.0, 0.0, 0.0, 0.0],
    [1.0, 0.86, 0.69, 0.46, 0.28, 0.15, 0.05, 0.01, 0.0, 0.0, 0.0, 0.0, 0.0, 0.0, 0.0, 0.0, 0.0, 0.0, 0.0, 0.0, 0.0, 0.0, 0.0, 0.0, 0.0],
    [1.0, 0.84, 0.65, 0.41, 0.24, 0.12, 0.04, 0.01, 0.0, 0.0, 0.0, 0.0, 0.0, 0.0, 0.0, 0.0, 0.0, 0.0, 0.0, 0.0, 0.0, 0.0, 0.0, 0.0, 0.0]]

# ---------------- style ----------------
sns.set_style("ticks")
plt.rcParams["font.family"] = ["DejaVu Sans"]
plt.rcParams["mathtext.fontset"] = "dejavusans"
plt.rcParams["axes.edgecolor"] = "#8c8c8c"
plt.rcParams["axes.linewidth"] = 1.0

W, H = 1125, 1754
fig = plt.figure(figsize=(W / 100, H / 100), dpi=100)

BASE = {"low": "#000000", "mid": "#DAA520", "high": "#006400"}
ALPHAS = [1.0, 0.78, 0.5, 0.25]
LWS = [2.2, 1.7, 1.3, 1.0]

blocks = [
    dict(t=T_190, xlim=(0, 30), xticks=[0, 5, 10, 15, 20, 25, 30], ylim=(-0.2, 1.6),
         yticks=[0.0, 0.5, 1.0, 1.5], top=41.7, rowh=163.4, title_y=17,
         cols=[(71.7, 274.0), (347.3, 550.3), (625.0, 826.5), (904.7, 1107.0)],
         data=[[C190_TT_low, C190_LL_low, C190_pp_low, C190_rr_low],
               [C190_TT_mid, C190_LL_mid, C190_pp_mid, C190_rr_mid],
               [C190_TT_high, C190_LL_high, C190_pp_high, C190_rr_high]],
         xlims4=None, tickpad=2, labelpad=1),
    dict(t=T_196, xlim=(0, 35), xticks=[0, 5, 10, 15, 20, 25, 30, 35], ylim=(-0.2, 1.1),
         yticks=[0.0, 0.5, 1.0], top=635.0, rowh=167.3, title_y=609.5,
         cols=[(69.6, 274.8), (347.3, 552.5), (630.0, 834.4), (906.2, 1110.6)],
         data=[[C196_TT_low, C196_LL_low, C196_pp_low, C196_rr_low],
               [C196_TT_mid, C196_LL_mid, C196_pp_mid, C196_rr_mid],
               [C196_TT_high, C196_LL_high, C196_pp_high, C196_rr_high]],
         xlims4=None, tickpad=2, labelpad=1),
    dict(t=T_205, xlim=(0, 18), xticks=[0, 5, 10, 15], ylim=(-0.2, 1.1),
         yticks=[0.0, 0.5, 1.0], top=1233.5, rowh=159.5, title_y=1209,
         cols=[(72.5, 279.8), (354.0, 561.3), (631.3, 838.5), (904.3, 1110.6)],
         data=[[C205_TT_low, C205_LL_low, C205_pp_low, C205_rr_low],
               [C205_TT_mid, C205_LL_mid, C205_pp_mid, C205_rr_mid],
               [C205_TT_high, C205_LL_high, C205_pp_high, C205_rr_high]],
         xlims4=(0, 16), tickpad=0.5, labelpad=-1.5),
]

row_keys = ["low", "mid", "high"]
row_k = [K_LOW, K_MID, K_HIGH]

for b, blk in enumerate(blocks):
    fig.text(0.5, 1 - blk["title_y"] / H, TITLES[b], ha="center", va="center",
             fontsize=13.5, family=["Liberation Sans", "DejaVu Sans"])
    for r in range(3):
        top_px = blk["top"] + r * blk["rowh"]
        for c in range(4):
            x0, x1 = blk["cols"][c]
            ax = fig.add_axes([x0 / W, 1 - (top_px + blk["rowh"]) / H,
                               (x1 - x0) / W, blk["rowh"] / H])
            curves = blk["data"][r][c]
            for i in range(4):
                sns.lineplot(x=blk["t"], y=curves[i], ax=ax, color=BASE[row_keys[r]],
                             alpha=ALPHAS[i], linewidth=LWS[i], legend=False,
                             label=r"$k = %snm^{-1}$" % row_k[r][i])
            ax.axhline(0, color="#7f7f7f", lw=0.7, ls="--", zorder=0)
            xl = blk["xlim"] if (c < 3 or blk["xlims4"] is None) else blk["xlims4"]
            ax.set_xlim(*xl)
            ax.set_ylim(*blk["ylim"])
            ax.set_yticks(blk["yticks"])
            ax.set_yticklabels(["%.1f" % v for v in blk["yticks"]])
            ax.tick_params(axis="y", labelsize=13, length=3.5, width=0.8, pad=2)
            if r < 2:
                ax.set_xticks([])
                ax.set_xlabel("")
            else:
                ax.set_xticks(blk["xticks"])
                ax.tick_params(axis="x", labelsize=13, length=2.5, width=0.8,
                               pad=blk["tickpad"])
                ax.set_xlabel(r"t ($\mu$s)", fontsize=13, labelpad=blk["labelpad"])
            ax.set_ylabel(YLABELS[c], fontsize=13, labelpad=2)
            fs = 7.6 if (c == 3 and r == 1) else 9
            leg = ax.legend(loc="upper right", fontsize=fs, handlelength=2.0,
                            labelspacing=0.02, borderpad=0.35, handletextpad=0.6,
                            framealpha=0.85)
            leg.get_frame().set_edgecolor("#d0d0d0")

fig.savefig("out.png", dpi=100)
